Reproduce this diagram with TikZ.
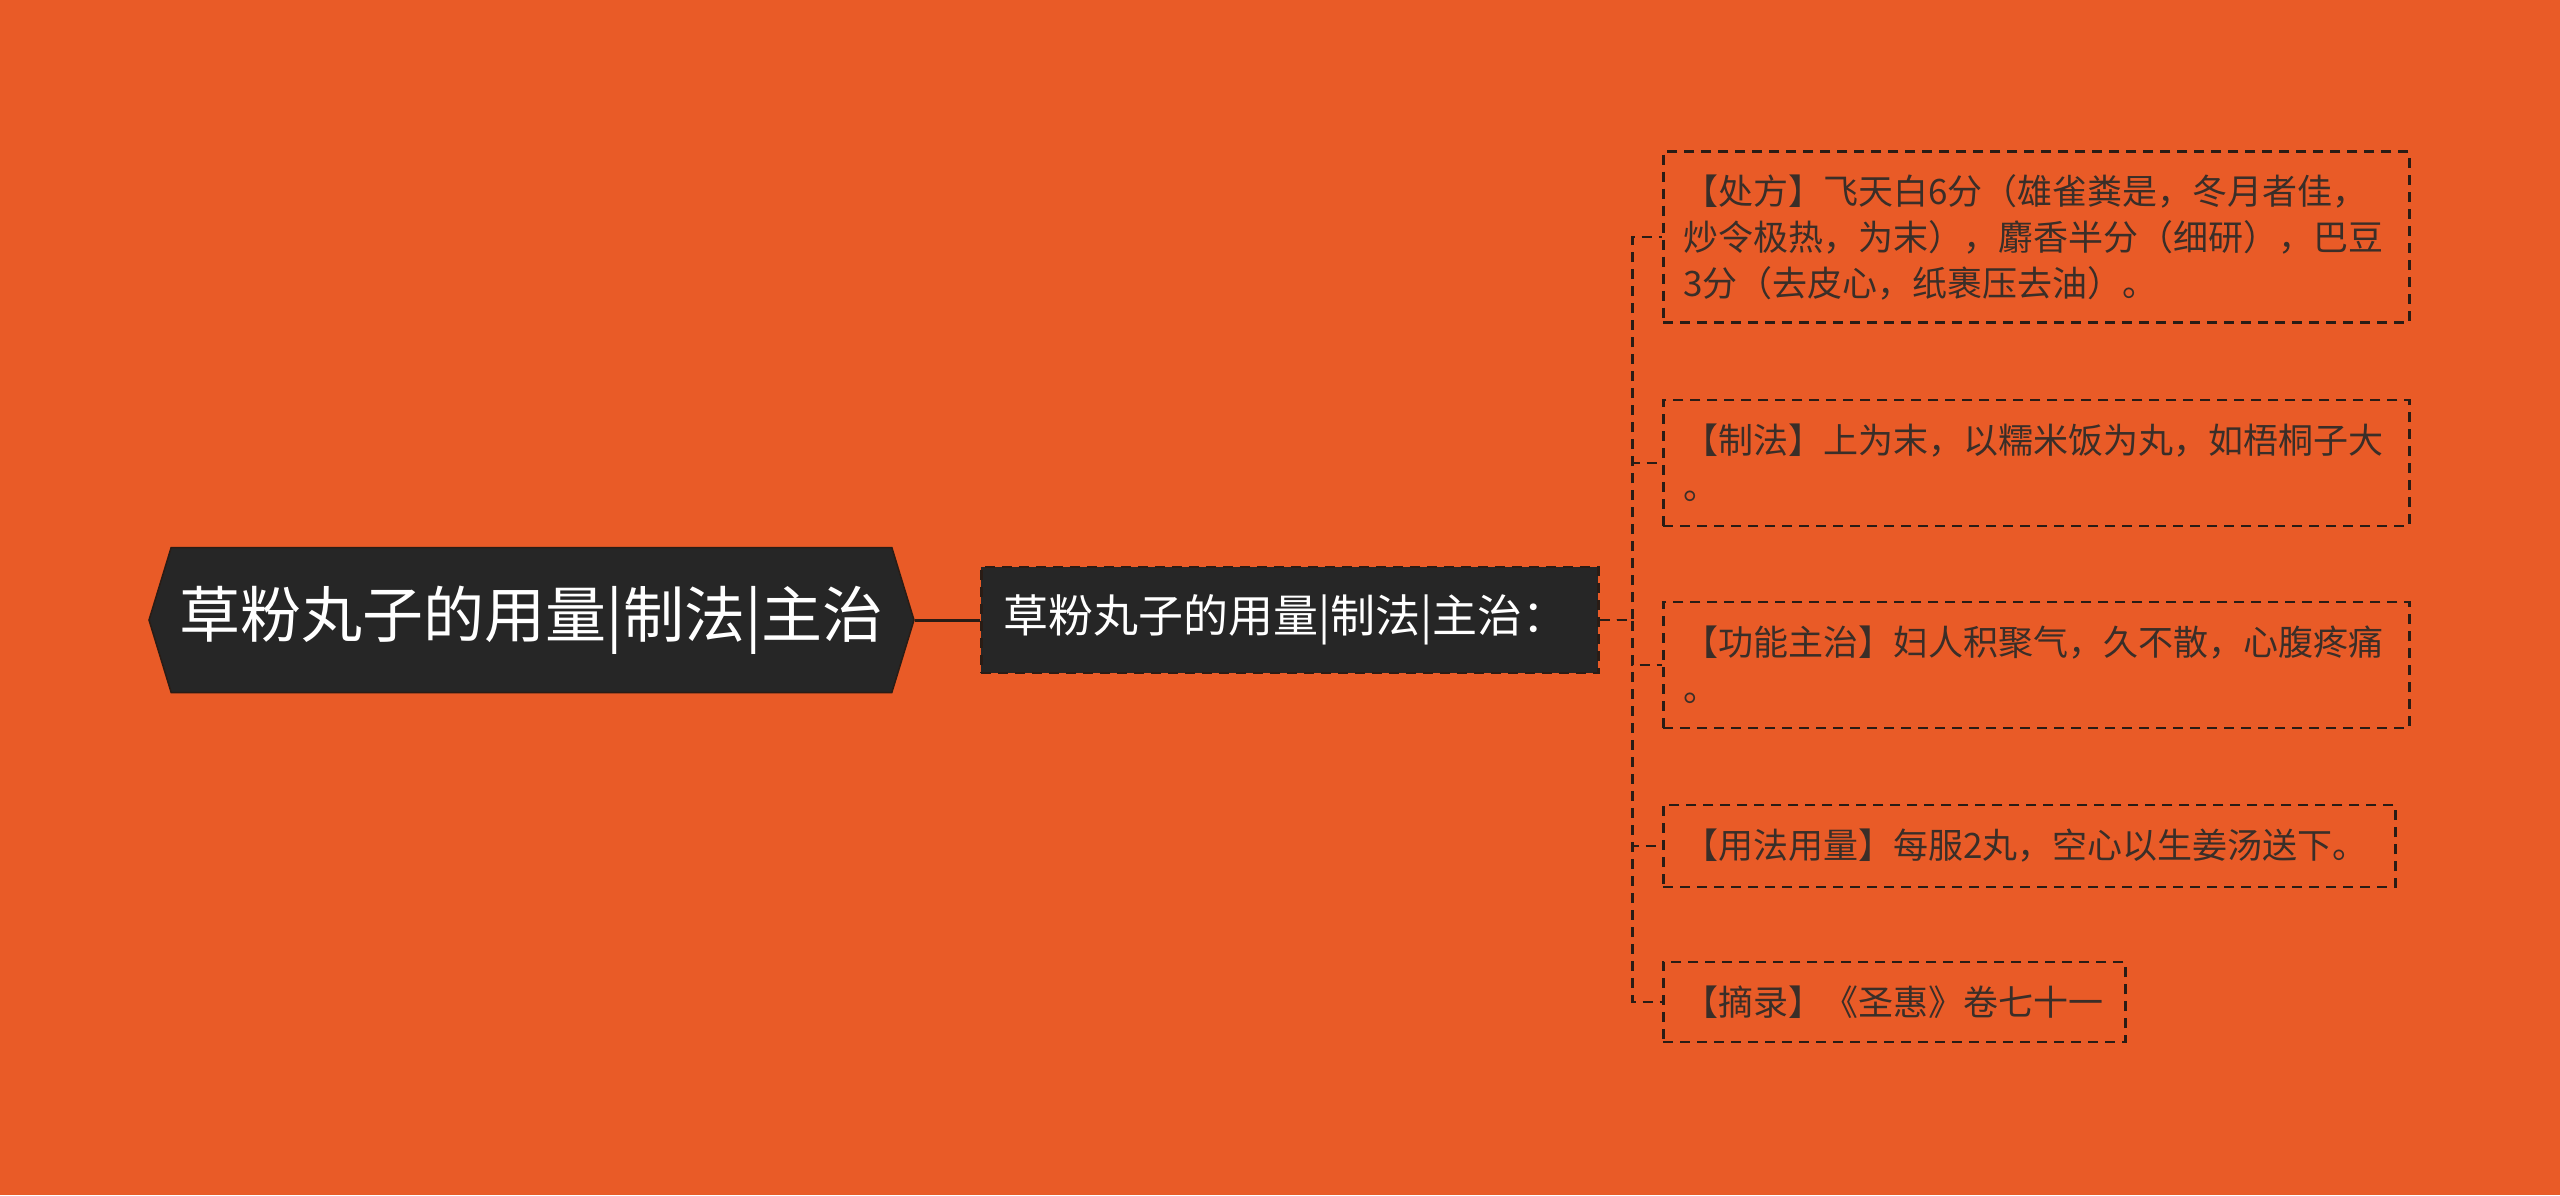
\documentclass[tikz,border=0pt]{standalone}
\usepackage{fontspec}
\setmainfont{Noto Sans CJK SC}
\usetikzlibrary{shapes.symbols}
\definecolor{bgorange}{HTML}{E95B27}
\definecolor{nodedark}{HTML}{262626}
\definecolor{leaftext}{HTML}{3A2E28}
\definecolor{lineink}{HTML}{2A1C15}
\tikzset{
  rootnode/.style={signal, signal to=west and east, signal pointer angle=146,
    fill=nodedark, draw=lineink, line width=1.5pt, text=white, inner sep=0pt,
    minimum width=765pt, minimum height=145pt, font=\fontsize{61}{70}\selectfont},
  subnode/.style={anchor=west, fill=nodedark, draw=lineink, line width=2.5pt,
    dash pattern=on 10pt off 7pt, text=white, align=left, inner xsep=22pt,
    text width=573pt, minimum height=106pt, font=\fontsize{45}{54}\selectfont},
  leafnode/.style={anchor=west, draw=lineink, line width=2.5pt,
    dash pattern=on 10pt off 7pt, text=leaftext, align=left, inner xsep=20pt,
    font=\fontsize{35}{46}\selectfont},
  link/.style={draw=lineink, line width=2.5pt, dash pattern=on 10pt off 7pt},
}
\begin{document}
\begin{tikzpicture}[x=1pt, y=-1pt]
  \fill[bgorange] (0,0) rectangle (2560,1195);
  \useasboundingbox (0,0) rectangle (2560,1195);
  \draw
    (531.5,620) node[rootnode] (root){草粉丸子的用量|制法|主治}
    (980,620) node[subnode] (sub){草粉丸子的用量|制法|主治：}
    (1662,237) node[leafnode, text width=706pt, minimum height=171pt] (recipe){【处方】飞天白6分（雄雀粪是，冬月者佳，\\炒令极热，为末），麝香半分（细研），巴豆\\3分（去皮心，纸裹压去油）。}
    (1662,463) node[leafnode, text width=706pt, minimum height=126pt] (method){【制法】上为末，以糯米饭为丸，如梧桐子大\\。}
    (1662,665) node[leafnode, text width=706pt, minimum height=126pt] (effect){【功能主治】妇人积聚气，久不散，心腹疼痛\\。}
    (1662,846) node[leafnode, text width=692pt, minimum height=82pt] (dosage){【用法用量】每服2丸，空心以生姜汤送下。}
    (1662,1002) node[leafnode, text width=422pt, minimum height=80pt] (source){【摘录】《圣惠》卷七十一};
  \begin{scope}[-]
    \draw[draw=lineink, line width=3pt] (root.east) -- (sub.west);
    \draw[link] (sub.east) -- ++(33,0) |- (recipe.west);
    \draw[link] (sub.east) -- ++(33,0) |- (method.west);
    \draw[link] (sub.east) -- ++(33,0) |- (effect.west);
    \draw[link] (sub.east) -- ++(33,0) |- (dosage.west);
    \draw[link] (sub.east) -- ++(33,0) |- (source.west);
  \end{scope}
\end{tikzpicture}
\end{document}
